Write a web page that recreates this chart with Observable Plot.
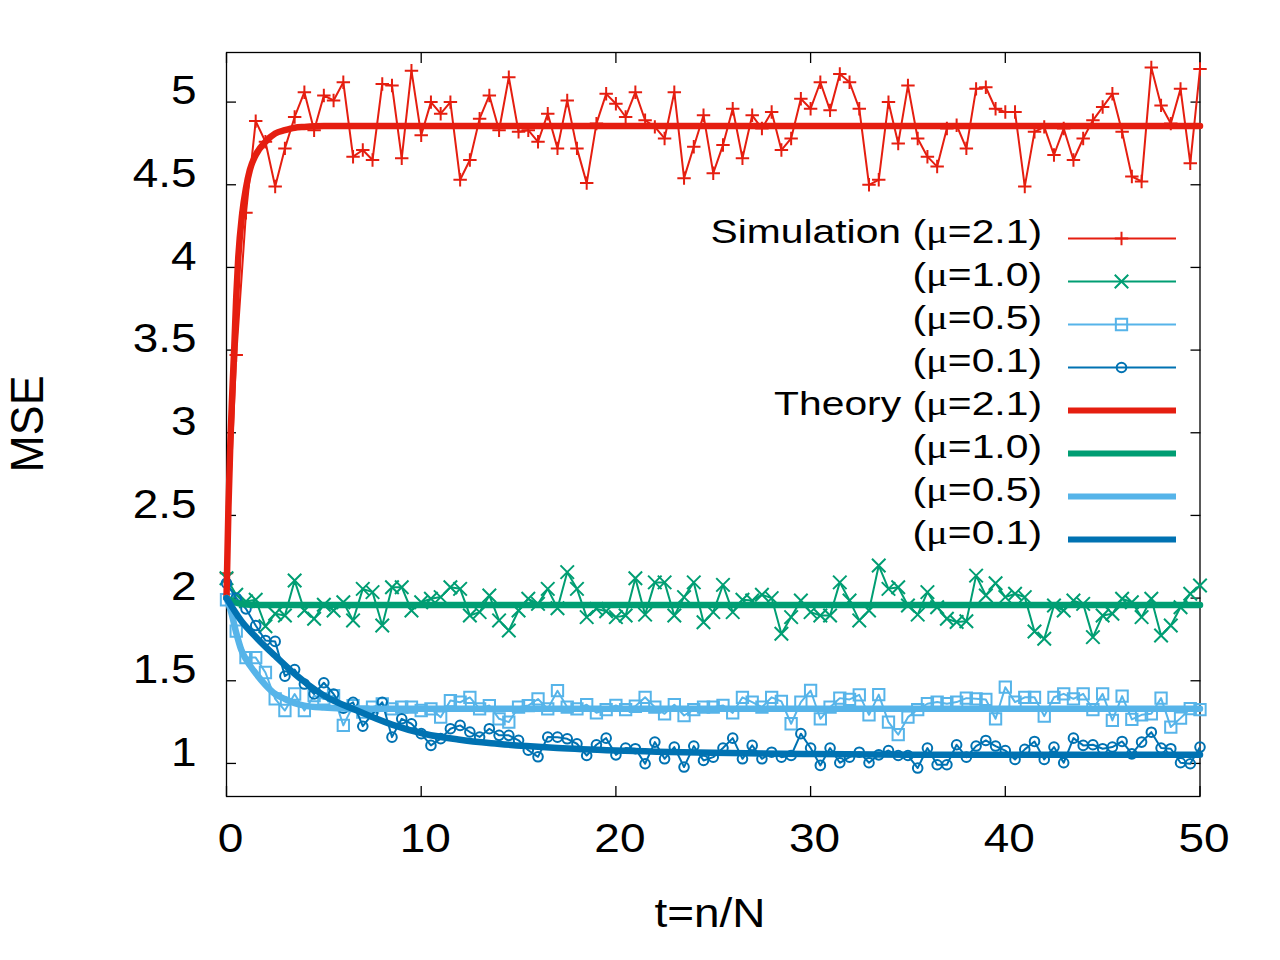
<!DOCTYPE html>
<html><head><meta charset="utf-8">
<script src="https://cdn.jsdelivr.net/npm/d3@7"></script>
<script src="https://cdn.jsdelivr.net/npm/@observablehq/plot@0.6"></script>
<style>
html,body{margin:0;padding:0;background:#fff;}
#chart{width:1280px;height:960px;}
</style></head><body><div id="chart"></div>
<script>
// ---- data ----
const tSim = [0,0.5,1,1.5,2,2.5,3,3.5,4,4.5,5,5.5,6,6.5,7,7.5,8,8.5,9,9.5,
  10,10.5,11,11.5,12,12.5,13,13.5,14,14.5,15,15.5,16,16.5,17,17.5,18,18.5,19,19.5,
  20,20.5,21,21.5,22,22.5,23,23.5,24,24.5,25,25.5,26,26.5,27,27.5,28,28.5,29,29.5,
  30,30.5,31,31.5,32,32.5,33,33.5,34,34.5,35,35.5,36,36.5,37,37.5,38,38.5,39,39.5,
  40,40.5,41,41.5,42,42.5,43,43.5,44,44.5,45,45.5,46,46.5,47,47.5,48,48.5,49,49.5,50];

const simRed = [2.15,3.47,4.33,4.885,4.76,4.49,4.72,4.91,5.06,4.83,
  5.04,5.01,5.12,4.67,4.71,4.65,5.11,5.10,4.66,5.19,
  4.80,5.00,4.93,5.00,4.53,4.65,4.90,5.04,4.83,5.15,
  4.82,4.83,4.76,4.93,4.72,5.01,4.72,4.51,4.87,5.05,
  4.99,4.91,5.06,4.89,4.85,4.78,5.06,4.54,4.73,4.92,
  4.57,4.74,4.96,4.66,4.92,4.84,4.94,4.71,4.78,5.02,
  4.96,5.12,4.95,5.17,5.12,4.96,4.50,4.53,5.00,4.75,
  5.10,4.78,4.67,4.61,4.84,4.86,4.72,5.08,5.09,4.96,
  4.94,4.94,4.49,4.82,4.85,4.68,4.84,4.65,4.78,4.89,
  4.97,5.05,4.82,4.55,4.52,5.21,4.98,4.87,5.08,4.63,5.20];

const simGreen = [2.12,2.02,1.98,1.99,1.83,1.905,1.895,2.106,1.925,1.875,
  1.96,1.925,1.975,1.865,2.056,2.036,1.834,2.066,2.066,1.925,
  1.975,1.996,2.006,2.066,2.056,1.895,1.915,2.016,1.865,1.804,
  1.925,1.996,1.965,2.056,1.939,2.157,2.056,1.885,1.935,1.92,
  1.885,1.895,2.12,1.90,2.095,2.095,1.895,2.006,2.095,1.854,
  1.915,2.08,1.915,1.99,1.985,2.02,2.0,1.784,1.885,1.985,
  1.915,1.895,1.895,2.095,1.985,1.865,1.925,2.197,2.056,2.066,
  1.955,1.90,2.036,1.945,1.875,1.855,1.86,2.136,2.016,2.09,
  2.006,2.026,2.006,1.798,1.754,1.955,1.925,1.985,1.965,1.764,
  1.895,1.905,1.996,1.975,1.885,1.996,1.774,1.834,1.945,2.026,2.076];

const simLight = [1.99,1.80,1.64,1.64,1.55,1.39,1.32,1.42,1.32,1.41,
  1.39,1.41,1.23,1.35,1.31,1.34,1.36,1.33,1.34,1.34,
  1.32,1.33,1.28,1.38,1.37,1.40,1.33,1.35,1.27,1.25,
  1.34,1.35,1.39,1.33,1.44,1.34,1.33,1.355,1.306,1.326,
  1.351,1.326,1.346,1.40,1.34,1.30,1.355,1.29,1.326,1.34,
  1.34,1.351,1.306,1.40,1.371,1.34,1.40,1.375,1.24,1.371,
  1.441,1.27,1.34,1.395,1.387,1.415,1.294,1.416,1.25,1.174,
  1.28,1.326,1.361,1.371,1.361,1.371,1.395,1.391,1.387,1.27,
  1.461,1.371,1.40,1.40,1.286,1.40,1.421,1.391,1.421,1.326,
  1.421,1.26,1.407,1.266,1.294,1.30,1.395,1.22,1.274,1.331,1.326];

const simBlue = [2.09,2.0,1.935,1.834,1.744,1.738,1.528,1.568,1.48,1.42,
  1.488,1.42,1.334,1.37,1.225,1.30,1.37,1.159,1.27,1.24,
  1.18,1.109,1.15,1.21,1.23,1.19,1.16,1.21,1.17,1.17,
  1.14,1.08,1.04,1.16,1.159,1.149,1.119,1.048,1.113,1.153,
  1.052,1.093,1.089,0.998,1.129,1.028,1.099,0.978,1.105,1.018,
  1.038,1.093,1.153,1.028,1.109,1.028,1.068,1.038,1.048,1.18,
  1.093,0.988,1.093,1.004,1.038,1.068,1.004,1.052,1.078,1.048,
  1.048,0.972,1.093,0.992,0.992,1.113,1.038,1.105,1.139,1.105,
  1.078,1.024,1.085,1.133,1.024,1.099,1.004,1.153,1.109,1.113,
  1.089,1.099,1.133,1.058,1.129,1.189,1.093,1.089,1.004,0.998,1.099];

const thRedT = [0,0.1,0.2,0.3,0.4,0.5,0.6,0.8,1.0,1.2,1.5,2.0,2.5,3.0,3.5,4.0,5.0,50];
const thRedV = [2.0,2.55,2.95,3.25,3.52,3.82,4.05,4.32,4.48,4.59,4.68,4.76,4.81,4.83,4.845,4.85,4.855,4.855];
const thGreenT = [0,0.25,0.5,1,2,50];
const thGreenV = [2.0,1.985,1.972,1.962,1.958,1.958];
const thLightT = [0,0.25,0.5,0.75,1.0,1.5,2.0,2.5,3,3.5,4,5,6,8,50];
const thLightV = [2.0,1.91,1.79,1.69,1.63,1.545,1.475,1.42,1.39,1.365,1.35,1.338,1.333,1.33,1.33];
const thBlueT = [0,0.75,1.6,2.5,3.3,4.2,5,6.7,8.5,10.2,11.9,13.6,15.4,17,20,25,30,35,50];
const thBlueV = [2.0,1.864,1.753,1.65,1.562,1.476,1.411,1.32,1.235,1.178,1.145,1.122,1.105,1.093,1.078,1.064,1.057,1.053,1.052];

const xTicks = [0,10,20,30,40,50];
const yTicks = [1,1.5,2,2.5,3,3.5,4,4.5,5];
const muLabels = ["2.1","1.0","0.5","0.1"];
const colors = ["#e51e10","#009e73","#56b4e9","#0072b2"];
const symbolNames = ["plus","times","square2","circle"];
const symbolR = [4.4,6.2,7.2,4.8];

// ---- build tables ----
const simSeries = [simRed, simGreen, simLight, simBlue].map(vals => tSim.map((t,i) => ({t, v: vals[i]})));
const thSeries = [[thRedT,thRedV],[thGreenT,thGreenV],[thLightT,thLightV],[thBlueT,thBlueV]]
  .map(([T,V]) => T.map((t,i) => ({t, v: V[i]})));

const marks = [
  Plot.frame({stroke: "black", strokeWidth: 1.3}),
  Plot.axisY(yTicks, {anchor: "left", tickSize: -10, tickFormat: () => "", label: null, strokeWidth: 1.3}),
  Plot.axisY(yTicks, {anchor: "right", tickSize: -10, tickFormat: () => "", label: null, strokeWidth: 1.3}),
  Plot.axisX(xTicks, {anchor: "bottom", tickSize: -10, tickFormat: () => "", label: null, strokeWidth: 1.3}),
  Plot.axisX(xTicks, {anchor: "top", tickSize: -10, tickFormat: () => "", label: null, strokeWidth: 1.3}),
  Plot.axisY(yTicks, {anchor: "left", tickSize: 0, tickPadding: 30, dy: -11, fontSize: 41, tickFormat: d => String(d), label: null}),
  Plot.axisX(xTicks, {anchor: "bottom", tickSize: 0, tickPadding: 26, dx: 4, fontSize: 41, tickFormat: d => String(d), label: null})
];
simSeries.forEach((data, i) => {
  marks.push(Plot.line(data, {x: "t", y: "v", stroke: colors[i], strokeWidth: 2}));
  marks.push(Plot.dot(data, {x: "t", y: "v", stroke: colors[i], fill: "none", symbol: symbolNames[i], r: symbolR[i], strokeWidth: 2}));
});
thSeries.forEach((data, i) => {
  marks.push(Plot.line(data, {x: "t", y: "v", stroke: colors[i], strokeWidth: 6.5, curve: "monotone-x"}));
});

const chart = Plot.plot({
  width: 1280, height: 960,
  marginLeft: 226, marginRight: 80.5, marginTop: 52, marginBottom: 164,
  x: {domain: [0, 50]},
  y: {domain: [0.8, 5.3]},
  style: {fontFamily: "'Liberation Sans', Arial, sans-serif", fontSize: "41px", background: "white", color: "black"},
  marks
});
document.getElementById("chart").appendChild(chart);

function stretch(el, f) {
  const L = el.getComputedTextLength();
  if (L > 0) { el.setAttribute("textLength", (L * f).toFixed(1)); el.setAttribute("lengthAdjust", "spacingAndGlyphs"); }
}
const svg = d3.select(chart);
svg.selectAll('g[aria-label="y-axis tick label"] text, g[aria-label="x-axis tick label"] text').each(function() { stretch(this, 1.12); });

// axis titles
svg.append("text").attr("transform", "translate(43,424) rotate(-90)")
  .attr("text-anchor", "middle").attr("font-size", 47).attr("fill", "black").text("MSE")
  .each(function() { this.setAttribute("textLength", 97); this.setAttribute("lengthAdjust", "spacingAndGlyphs"); });
svg.append("text").attr("x", 710).attr("y", 927)
  .attr("text-anchor", "middle").attr("font-size", 41).attr("fill", "black").text("t=n/N")
  .each(function() { stretch(this, 1.12); });

// legend
const leg = svg.append("g");
const rowY0 = 238.5, rowStep = 43;
const symbolTypes = [d3.symbolPlus, d3.symbolTimes, d3.symbolSquare2, d3.symbolCircle];
for (let j = 0; j < 8; j++) {
  const i = j % 4;
  const y = rowY0 + j * rowStep;
  const prefix = j === 0 ? "Simulation " : j === 4 ? "Theory " : "";
  const txt = leg.append("text").attr("x", 1042).attr("y", y + 4.5).attr("text-anchor", "end")
    .attr("font-size", 34).attr("fill", "black");
  txt.append("tspan").text(prefix + "(");
  txt.append("tspan").attr("font-family", "'Liberation Serif', 'Times New Roman', serif").text("μ");
  txt.append("tspan").text("=" + muLabels[i] + ")");
  stretch(txt.node(), 1.2);
  leg.append("line").attr("x1", 1068).attr("x2", 1176).attr("y1", y).attr("y2", y)
    .attr("stroke", colors[i]).attr("stroke-width", j < 4 ? 2 : 6);
  if (j < 4) {
    const size = Math.PI * symbolR[i] * symbolR[i];
    leg.append("path").attr("d", d3.symbol(symbolTypes[i], size)())
      .attr("transform", `translate(1121.5,${y})`)
      .attr("fill", "none").attr("stroke", colors[i]).attr("stroke-width", 2);
  }
}
</script></body></html>
